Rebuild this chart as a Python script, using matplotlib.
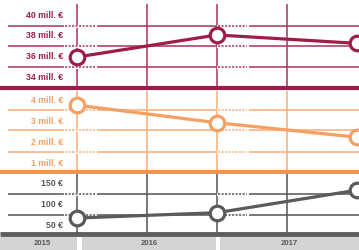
import matplotlib
matplotlib.use("Agg")
import matplotlib.pyplot as plt

years = [2015, 2016, 2017]
year_labels = ["2015", "2016", "2017"]
revenue_mill = [36.0, 38.1, 37.3]
profit_mill = [3.8, 2.95, 2.25]
price_eur = [67, 80, 135]

rev_ticks = [40, 38, 36, 34]
rev_labels = ["40 mill. €", "38 mill. €", "36 mill. €", "34 mill. €"]
prof_ticks = [4, 3, 2, 1]
prof_labels = ["4 mill. €", "3 mill. €", "2 mill. €", "1 mill. €"]
price_ticks = [150, 100, 50]
price_labels = ["150 €", "100 €", "50 €"]

W, H = 359, 250
PXY = 140.0  # pixels per year
X0 = 2015 - 77.0 / PXY
X1 = X0 + W / PXY


def px2x(px):
    return X0 + px / PXY


fig = plt.figure(figsize=(W / 100, H / 100), dpi=100)
plt.rcParams['font.family'] = ['Liberation Sans', 'DejaVu Sans']


def make_panel(top_px, bot_px, v_top, v_bot, color, grid_color, thick_color,
               values, ticks, labels, grids, thick_v, vline_top_v, thick_lw):
    ax = fig.add_axes([0, 1 - bot_px / H, 1, (bot_px - top_px) / H])
    ax.set_xlim(X0, X1)
    ax.set_ylim(v_bot, v_top)
    ax.axis('off')
    # vertical grid lines
    for xv in [2015, 2015.5, 2016, 2016.5]:
        ax.plot([xv, xv], [thick_v, vline_top_v], color=grid_color, lw=1.15,
                solid_capstyle='butt', zorder=1)
    # horizontal grid lines with dotted stretches
    segs_solid = [(px2x(8), px2x(65)), (px2x(95), px2x(218)), (px2x(247), X1)]
    segs_dot = [(px2x(65), px2x(95)), (px2x(218), px2x(247))]
    for g in grids:
        for a, b in segs_solid:
            ax.plot([a, b], [g, g], color=grid_color, lw=1.15,
                    solid_capstyle='butt', zorder=1)
        for a, b in segs_dot:
            ax.plot([a, b], [g, g], color='white', lw=2.2, zorder=1.5)
            ax.plot([a, b], [g, g], color=grid_color, lw=1.15,
                    linestyle=(0, (1.3, 0.9)), zorder=2)
    # thick baseline
    ax.axhline(thick_v, color=thick_color, lw=thick_lw, zorder=3,
               solid_capstyle='butt')
    # data
    ax.plot(years, values, color=color, lw=2.3, marker='o', markersize=10.5,
            markerfacecolor='white', markeredgecolor=color,
            markeredgewidth=2.3, zorder=5, clip_on=False)
    for t, l in zip(ticks, labels):
        ax.text(px2x(63), t, l, ha='right', va='center', fontsize=6.3,
                fontweight='bold', color=color, zorder=4)
    return ax


red = '#9e1c4a'
make_panel(0, 91, 36 + 57 / 10.5, 36 - 34 / 10.5, red, '#ad3a64', red,
           revenue_mill, rev_ticks, rev_labels, [39, 37, 35], 33.0,
           36 + 53 / 10.5, 3.0)

orange = '#f5a060'
make_panel(91, 174, 4 + 10 / 20.67, 4 - 73 / 20.67, orange, '#f8b07c', '#f4944a',
           profit_mill, prof_ticks, prof_labels, [3.55, 2.6, 1.55], 0.56,
           4.6, 3.0)

gray = '#5a5a5a'
make_panel(174, 237, 150 + 10 / 20.5 * 50, 50 - 12 / 20.5 * 50, gray, '#5a5a5a',
           '#5e5e5e', price_eur, price_ticks, price_labels, [125, 75], 27.0,
           180, 3.5)

# year band
axb = fig.add_axes([0, 0, 1, 13 / H])
axb.set_xlim(X0, X1)
axb.set_ylim(0, 1)
axb.axis('off')
band_edges = [(X0, px2x(77)), (px2x(82), px2x(216)), (px2x(220), X1)]
for (a, b), lab in zip(band_edges, year_labels):
    axb.axvspan(a, b, color='#d4d4d4', lw=0)
    axb.text((a + b) / 2 + (px2x(4) - X0 if lab == "2015" else 0), 0.5, lab,
             ha='center', va='center', fontsize=5.6, fontweight='bold',
             color='#5a5a5a')

fig.savefig('out.png', dpi=100)
